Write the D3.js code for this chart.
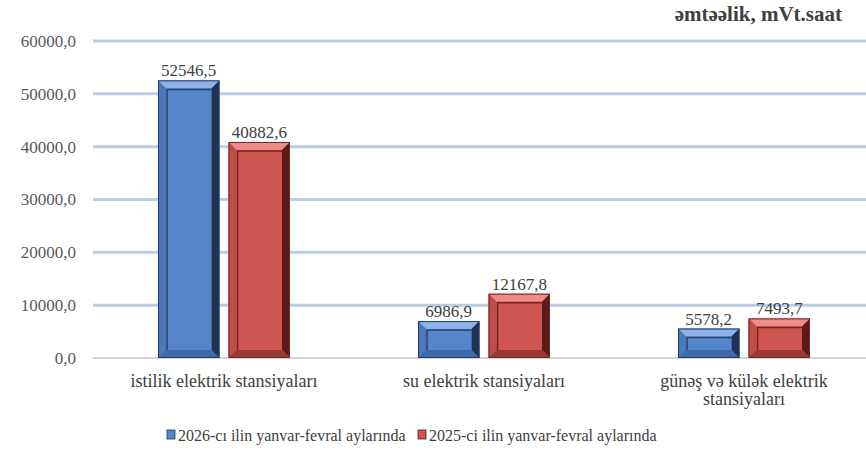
<!DOCTYPE html>
<html><head><meta charset="utf-8">
<script src="https://cdn.jsdelivr.net/npm/d3@7"></script>
<style>body{margin:0;background:#fff;} svg{display:block;}</style>
</head><body>
<script>
const categories = [["istilik elektrik stansiyaları"], ["su elektrik stansiyaları"], ["günəş və külək elektrik", "stansiyaları"]];
const series2026 = [52546.5, 6986.9, 5578.2];
const series2025 = [40882.6, 12167.8, 7493.7];
const seriesNames = ["2026-cı ilin yanvar-fevral aylarında", "2025-ci ilin yanvar-fevral aylarında"];
const yTicks = [0, 10000, 20000, 30000, 40000, 50000, 60000];
const title = "əmtəəlik, mVt.saat";

const W = 866, H = 451;
const FF = "Liberation Serif";
const svg = d3.select("body").append("svg").attr("width", W).attr("height", H);

const y = d3.scaleLinear().domain([0, 60000]).range([358, 41]);
const x0 = d3.scaleBand().domain(d3.range(categories.length)).range([94, 874]);
const x1 = d3.scaleBand().domain([0, 1]).range([x0.bandwidth()/2 - 66, x0.bandwidth()/2 + 66]).paddingInner(0.13);

svg.append("g").selectAll("line").data(yTicks).join("line")
  .attr("x1", 93).attr("x2", 866)
  .attr("y1", d => y(d)).attr("y2", d => y(d))
  .attr("stroke", d => d === 0 ? "#d4d4d4" : "#b9cde5")
  .attr("stroke-width", d => d === 0 ? 2 : 3);

const yAxis = d3.axisLeft(y).tickValues(yTicks).tickSize(0).tickPadding(0)
  .tickFormat(d => d3.format(".1f")(d).replace(".", ","));
const ya = svg.append("g").attr("transform", "translate(76,0)").call(yAxis);
ya.attr("font-family", FF).attr("font-size", 17);
ya.select(".domain").remove();
ya.selectAll("text").attr("fill", "#595959");

svg.append("text").attr("x", 842).attr("y", 21).attr("text-anchor", "end")
  .attr("font-family", FF).attr("font-size", 21).attr("font-weight", "bold").attr("fill", "#404040")
  .text(title);

const palettes = [
  {base: "#5586cc", light: "#8fb3e6", mid: "#4a78b8", dark: "#1e3354", bot: "#3e6aa8", stroke: "#1f3b63"},
  {base: "#cf5552", light: "#ee8c89", mid: "#c24c49", dark: "#5a1c1b", bot: "#9a3a38", stroke: "#6e2826"}
];
const allSeries = [series2026, series2025];

function bevelBar(g, xL, w, top, bottom, p) {
  const h = bottom - top;
  const d = Math.min(8, h / 3, w / 4);
  g.append("rect").attr("x", xL).attr("y", top).attr("width", w).attr("height", h).attr("fill", p.base);
  const xr = xL + w, ib = bottom;
  g.append("polygon").attr("points", [[xL,top],[xr,top],[xr-d,top+d],[xL+d,top+d]].join(" ")).attr("fill", p.light);
  g.append("polygon").attr("points", [[xL,top],[xL+d,top+d],[xL+d,ib-d],[xL,ib]].join(" ")).attr("fill", p.mid);
  g.append("polygon").attr("points", [[xr,top],[xr,ib],[xr-d,ib-d],[xr-d,top+d]].join(" ")).attr("fill", p.dark);
  g.append("polygon").attr("points", [[xL,ib],[xr,ib],[xr-d,ib-d],[xL+d,ib-d]].join(" ")).attr("fill", p.bot);
  g.append("rect").attr("x", xL+d).attr("y", top+d).attr("width", w-2*d).attr("height", h-2*d).attr("fill", p.base);
  g.append("polyline").attr("points", [[xL+d+1, ib-d],[xL+d+1, top+d+1],[xr-d, top+d+1]].join(" "))
    .attr("fill", "none").attr("stroke", p.dark).attr("stroke-width", 1.5).attr("stroke-opacity", 0.8);
  g.append("rect").attr("x", xL+0.5).attr("y", top+0.5).attr("width", w-1).attr("height", h-1)
    .attr("fill", "none").attr("stroke", p.stroke).attr("stroke-width", 1);
}

categories.forEach((c, i) => {
  const g = svg.append("g").attr("transform", `translate(${x0(i)},0)`);
  allSeries.forEach((s, j) => {
    const v = s[i];
    const xl = x1(j), w = x1.bandwidth();
    bevelBar(g, xl, w, y(v), y(0), palettes[j]);
    g.append("text").attr("x", xl + w/2).attr("y", y(v) - 4).attr("text-anchor", "middle")
      .attr("font-family", FF).attr("font-size", 17).attr("fill", "#404040")
      .text(d3.format(".1f")(v).replace(".", ","));
  });
  const t = g.append("text").attr("x", x0.bandwidth()/2).attr("y", 387).attr("text-anchor", "middle")
    .attr("font-family", FF).attr("font-size", 18).attr("fill", "#404040");
  c.forEach((line, k) => t.append("tspan").attr("x", x0.bandwidth()/2).attr("dy", k === 0 ? 0 : 18).text(line));
});

const legendX = [167, 418];
const leg = svg.append("g");
seriesNames.forEach((n, j) => {
  const p = palettes[j];
  leg.append("rect").attr("x", legendX[j]).attr("y", 430).attr("width", 8).attr("height", 9).attr("fill", p.base).attr("stroke", p.dark).attr("stroke-width", 0.8);
  leg.append("text").attr("x", legendX[j] + 11).attr("y", 441)
    .attr("font-family", FF).attr("font-size", 16).attr("fill", "#404040").text(n);
});
</script>
</body></html>
